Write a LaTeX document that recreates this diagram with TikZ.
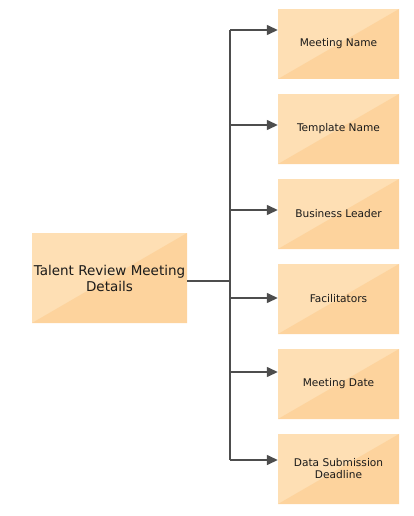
\documentclass[tikz,border=0pt]{standalone}
\usepackage{fontspec}
\setmainfont{DejaVu Sans}
\usetikzlibrary{arrows.meta}
\definecolor{boxlight}{HTML}{FEDFB4}
\definecolor{boxdark}{HTML}{FDD39D}
\definecolor{linegray}{HTML}{4D4D4D}
\definecolor{txt}{HTML}{1A1A1A}
\tikzset{
  card/.style={minimum width=#1, inner sep=0pt, align=center, text=txt,
    path picture={
      \fill[boxlight] (path picture bounding box.south west) rectangle (path picture bounding box.north east);
      \fill[boxdark] (path picture bounding box.south west) -- (path picture bounding box.north east) -- (path picture bounding box.south east) -- cycle;
    }},
  leaf/.style={card=121pt, minimum height=70pt, font=\fontsize{10.6}{12}\selectfont},
  root/.style={card=155pt, minimum height=90pt, font=\fontsize{13.5}{16}\selectfont},
  conn/.style={draw=linegray, line width=1.4pt},
  arr/.style={conn, -{Triangle[length=11pt, width=10pt]}}
}
\begin{document}
\begin{tikzpicture}[x=1pt, y=-1pt]
\useasboundingbox (0,0) rectangle (414,516);
\node[root] (r) at (109.5,278) {Talent Review Meeting\\Details};
\node[leaf] (l1) at (338.5,44) {Meeting Name};
\node[leaf] (l2) at (338.5,129) {Template Name};
\node[leaf] (l3) at (338.5,214) {Business Leader};
\node[leaf] (l4) at (338.5,299) {Facilitators};
\node[leaf] (l5) at (338.5,384) {Meeting Date};
\node[leaf] (l6) at (338.5,469) {Data Submission\\Deadline};
\coordinate (j) at (230,281);
\coordinate (t1) at (230,30);
\coordinate (t2) at (230,125);
\coordinate (t3) at (230,210);
\coordinate (t4) at (230,298);
\coordinate (t5) at (230,372);
\coordinate (t6) at (230,460);
\draw[conn] (r.east |- j) -- (j);
\draw[conn] (t1) -- (t6);
\draw[arr] (t1) -- (l1.west |- t1);
\draw[arr] (t2) -- (l2.west |- t2);
\draw[arr] (t3) -- (l3.west |- t3);
\draw[arr] (t4) -- (l4.west |- t4);
\draw[arr] (t5) -- (l5.west |- t5);
\draw[arr] (t6) -- (l6.west |- t6);
\end{tikzpicture}
\end{document}
